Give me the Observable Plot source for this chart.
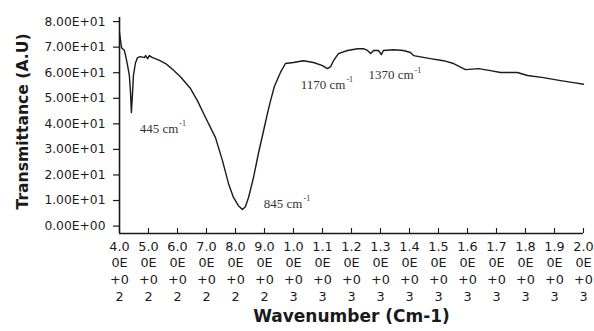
<!DOCTYPE html>
<html><head><meta charset="utf-8">
<script src="https://cdn.jsdelivr.net/npm/d3@7"></script>
<script src="https://cdn.jsdelivr.net/npm/@observablehq/plot@0.6"></script>
<style>html,body{margin:0;padding:0;background:#fff} svg{display:block}</style>
</head><body><div id="chart"></div>
<script>
const wavenumber = [400, 407, 417, 421, 428, 434, 438, 441, 445, 448, 455, 462, 472, 486, 490, 497, 503, 514, 538, 559, 576, 610, 645, 669, 697, 731, 755, 776, 793, 810, 824, 834, 845, 862, 879, 897, 910, 921, 934, 955, 972, 1000, 1034, 1069, 1100, 1117, 1128, 1138, 1155, 1186, 1221, 1241, 1255, 1266, 1276, 1293, 1303, 1310, 1345, 1379, 1403, 1414, 1472, 1517, 1552, 1593, 1638, 1679, 1714, 1772, 1807, 1862, 1921, 1966, 2000];
const transmittance = [75.7, 69.8, 68.7, 66.7, 62.8, 58.9, 52.2, 44.4, 52.2, 58.9, 63.8, 65.9, 66.3, 65.9, 66.7, 65.5, 66.7, 65.9, 64.8, 63.6, 62.0, 58.4, 53.8, 49.0, 42.4, 34.6, 25.6, 16.6, 11.2, 8.0, 6.5, 7.6, 11.2, 19.0, 28.4, 37.4, 44.0, 49.1, 54.6, 60.1, 63.6, 64.0, 64.7, 64.0, 62.8, 61.6, 62.4, 64.7, 67.5, 68.7, 69.4, 69.4, 68.7, 67.5, 68.7, 68.7, 67.1, 68.7, 69.0, 68.7, 67.9, 66.7, 65.5, 64.7, 63.6, 61.2, 61.6, 60.8, 60.1, 60.1, 58.9, 58.1, 56.9, 56.1, 55.5];

const yTicks = [0, 10, 20, 30, 40, 50, 60, 70, 80];
const yTickLabels = ["0.00E+00", "1.00E+01", "2.00E+01", "3.00E+01", "4.00E+01", "5.00E+01", "6.00E+01", "7.00E+01", "8.00E+01"];
const xTicks = [400, 500, 600, 700, 800, 900, 1000, 1100, 1200, 1300, 1400, 1500, 1600, 1700, 1800, 1900, 2000];
const xTickLabels = [
  "4.0\n0E\n+0\n2", "5.0\n0E\n+0\n2", "6.0\n0E\n+0\n2", "7.0\n0E\n+0\n2", "8.0\n0E\n+0\n2", "9.0\n0E\n+0\n2",
  "1.0\n0E\n+0\n3", "1.1\n0E\n+0\n3", "1.2\n0E\n+0\n3", "1.3\n0E\n+0\n3", "1.4\n0E\n+0\n3", "1.5\n0E\n+0\n3",
  "1.6\n0E\n+0\n3", "1.7\n0E\n+0\n3", "1.8\n0E\n+0\n3", "1.9\n0E\n+0\n3", "2.0\n0E\n+0\n3"
];
const peakX = [603, 1031, 1179, 1414];
const peakY = [38.1, 8.8, 55.4, 59.0];
const peakLabels = ["445 cm", "845 cm", "1170 cm", "1370 cm"];
const peakSup = "-1";
const xTitle = "Wavenumber (Cm-1)";
const yTitle = "Transmittance (A.U)";

const yMin = -2.9, yMax = 81.6;
const data = wavenumber.map((w, i) => ({w, t: transmittance[i]}));
const peaks = peakX.map((x, i) => ({x, y: peakY[i], label: peakLabels[i]}));

const plot = Plot.plot({
  width: 594, height: 331,
  marginLeft: 119, marginRight: 11, marginTop: 17, marginBottom: 98,
  style: {fontFamily: "'DejaVu Sans', sans-serif", background: "#fff", color: "#1a1a1a"},
  x: {domain: [400, 2000]},
  y: {domain: [yMin, yMax]},
  marks: [
    Plot.axisY({ticks: yTicks, tickFormat: d => yTickLabels[yTicks.indexOf(d)], tickSize: 6, tickPadding: 8, fontSize: 12.3, label: null, strokeWidth: 1.2}),
    Plot.axisX({ticks: xTicks, tickFormat: d => xTickLabels[xTicks.indexOf(d)], tickSize: 0, tickPadding: 5, fontSize: 12.8, lineHeight: 1.32, label: null}),
    Plot.axisX({ticks: xTicks, text: null, tickSize: 5, dy: -5, label: null, strokeWidth: 1.1}),
    Plot.ruleX([400], {stroke: "#1a1a1a", strokeWidth: 1.6}),
    Plot.ruleY([yMin], {stroke: "#1a1a1a", strokeWidth: 1.6}),
    Plot.line(data, {x: "w", y: "t", stroke: "#1a1a1a", strokeWidth: 1.4}),
    Plot.text(peaks, {x: "x", y: "y", text: "label", textAnchor: "end", fontFamily: "'Liberation Serif', serif", fontSize: 13, fill: "#333"}),
    Plot.text(peaks, {x: "x", y: "y", text: () => peakSup, textAnchor: "start", dx: 1, dy: -5, fontFamily: "'Liberation Serif', serif", fontSize: 8, fill: "#333"}),
    Plot.text([xTitle], {frameAnchor: "bottom", textAnchor: "middle", dy: 88, fontWeight: "bold", fontSize: 17, fill: "#1a1a1a"}),
    Plot.text([yTitle], {frameAnchor: "left", textAnchor: "middle", rotate: -90, dx: -97, dy: -4, fontWeight: "bold", fontSize: 15.6, fill: "#1a1a1a"})
  ]
});
document.getElementById("chart").appendChild(plot);
</script>
</body></html>
